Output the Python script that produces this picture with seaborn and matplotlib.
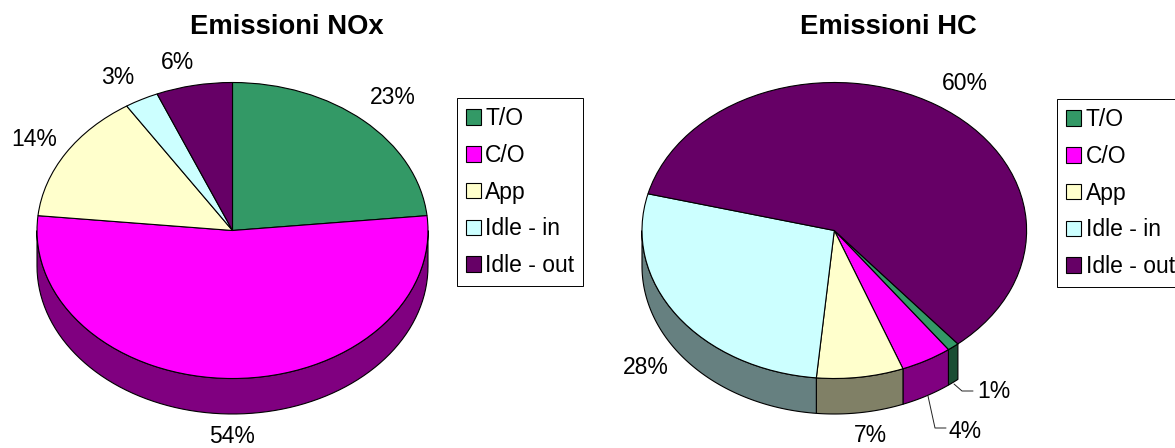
import numpy as np
import matplotlib
matplotlib.use('Agg')
import matplotlib.pyplot as plt
from matplotlib.lines import Line2D
from matplotlib.colors import to_rgb
import seaborn as sns

categorie = ['T/O', 'C/O', 'App', 'Idle - in', 'Idle - out']
nox = [23.4, 53.2, 14.3, 2.8, 6.3]
hc = [1.0, 4.3, 7.3, 27.5, 59.9]
etichette_nox = ['23%', '54%', '14%', '3%', '6%']
etichette_hc = ['1%', '4%', '7%', '28%', '60%']
colori = ['#339966', '#FF00FF', '#FFFFCC', '#CCFFFF', '#660066']

W, H = 1175, 448
RY = 148
DEPTH = 35.5 / RY

sns.set_style('white')
plt.rcParams['font.family'] = ['Liberation Sans', 'DejaVu Sans']
plt.rcParams['text.color'] = 'black'

fig = plt.figure(figsize=(W / 100, H / 100), dpi=100)


def fpos(x, y):
    return x / W, 1 - y / H


def torta(cx, cy, rx, valori, start):
    # axes placed so that one data unit is rx / RY pixels
    ax = fig.add_axes([(cx - 1.1 * rx) / W, 1 - (cy + 1.4 * RY) / H, 2.2 * rx / W, 2.6 * RY / H])
    wedges, _ = ax.pie(valori, colors=colori, startangle=start, counterclock=False,
                       radius=1, wedgeprops={'edgecolor': 'black', 'linewidth': 0.8, 'zorder': 3})
    ax.set_aspect('auto')
    ax.set_xlim(-1.1, 1.1)
    ax.set_ylim(-1.4, 1.2)
    ax.axis('off')
    # visible side of the disc, half as bright as the top
    for w, c in zip(wedges, colori):
        t1, t2 = sorted((w.theta1, w.theta2))
        for k in (-360, 0, 360):
            a = max(t1 + k, 180)
            b = min(t2 + k, 360)
            if b > a:
                t = np.radians(np.linspace(a, b, 80))
                xs = np.r_[np.cos(t), np.cos(t[::-1])]
                ys = np.r_[np.sin(t), np.sin(t[::-1]) - DEPTH]
                ax.fill(xs, ys, color=np.array(to_rgb(c)) * 0.5, ec='black', lw=0.8, zorder=2)
    return ax, wedges


ax1, w1 = torta(232.5, 230.5, 195.5, nox, 90)
ax2, w2 = torta(834.3, 230.5, 192.3, hc, 90 - 140)

fig.text(*fpos(287, 27), 'Emissioni NOx', fontsize=19.7, fontweight='bold', ha='center', va='center')
fig.text(*fpos(888.5, 27), 'Emissioni HC', fontsize=19.7, fontweight='bold', ha='center', va='center')

# percent labels
pos_nox = [(393, 98), (232, 436.5), (34, 140), (118, 77), (177, 62)]
pos_hc = [(993.5, 391), (965.5, 431), (870, 435), (646, 367), (965, 83)]
for etichette, pos in ((etichette_nox, pos_nox), (etichette_hc, pos_hc)):
    for e, (x, y) in zip(etichette, pos):
        fig.text(*fpos(x, y), e, fontsize=16.5, ha='center', va='center')

# leader lines
for xs, ys in (([954, 962, 973], [384, 391, 391]), ([928, 935, 946], [396, 428, 428])):
    fig.add_artist(Line2D([x / W for x in xs], [1 - y / H for y in ys], color='#222222', lw=0.7))

for ax, wedges, x0, y0 in ((ax1, w1, 456.5, 98), (ax2, w2, 1057, 99)):
    leg = ax.legend(wedges, categorie, loc='upper left', bbox_to_anchor=fpos(x0, y0),
                    bbox_transform=fig.transFigure, borderaxespad=0, fontsize=16.5,
                    frameon=True, fancybox=False, framealpha=1, edgecolor='black',
                    handlelength=0.65, handleheight=0.65, handletextpad=0.2,
                    labelspacing=0.6, borderpad=0.4)
    leg.get_frame().set_linewidth(0.7)
    sns.despine(ax=ax, left=True, bottom=True)

fig.savefig('out.png', dpi=100)
